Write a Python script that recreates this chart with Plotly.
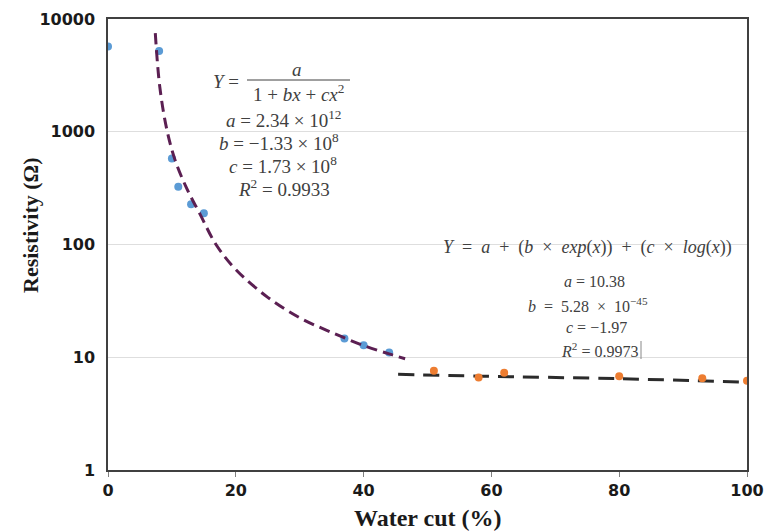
import plotly.graph_objects as go

# ---- data ----
water_cut_low = [0, 8, 10, 11, 13, 15, 37, 40, 44]
resist_low = [5700, 5200, 580, 326, 227, 189, 14.7, 12.8, 11.0]

water_cut_high = [51, 58, 62, 80, 93, 100]
resist_high = [7.6, 6.6, 7.3, 6.8, 6.5, 6.2]

fit1_x = [7.4, 8.1, 9.2, 10.5, 12.3, 14.4, 16.9, 20, 25, 30, 35, 40, 44, 46.5]
fit1_y = [7500, 2510, 1050, 560, 316, 186, 100, 60, 34, 22.4, 16.6, 12.7, 10.7, 9.7]

fit2_x = [45.4, 58, 80, 100]
fit2_y = [7.05, 6.8, 6.45, 6.0]

x_ticks = [0, 20, 40, 60, 80, 100]
y_ticks = [1, 10, 100, 1000, 10000]
y_tick_text = ["1", "10", "100", "1000", "10000"]

# ---- geometry (page pixels) ----
W, H = 765, 531
L, R, T, B = 108, 747, 19, 470


def px(x):
    return (x - L) / (R - L)


def py(y):
    return (B - y) / (B - T)


fig = go.Figure()

fig.add_trace(go.Scatter(
    x=water_cut_low, y=resist_low, mode="markers",
    marker=dict(color="#5b9bd5", size=8), showlegend=False))

fig.add_trace(go.Scatter(
    x=fit1_x, y=fit1_y, mode="lines", line_shape="spline",
    line=dict(color="#5b1f52", width=3, dash="11px,6px"), showlegend=False))

fig.add_trace(go.Scatter(
    x=fit2_x, y=fit2_y, mode="lines", line_shape="spline",
    line=dict(color="#2b2b2b", width=3, dash="16px,9px"), showlegend=False))

fig.add_trace(go.Scatter(
    x=water_cut_high, y=resist_high, mode="markers",
    marker=dict(color="#ed7d31", size=8), showlegend=False))

left_font = dict(family="Liberation Serif", size=19, color="#404040")
right_font = dict(family="Liberation Serif", size=16, color="#404040")
eq_font = dict(family="Liberation Serif", size=18, color="#404040")
anns = []


def ann(text, x, y, font, xanchor="center"):
    anns.append(dict(text=text, x=x, y=y, xref="paper", yref="paper",
                     xanchor=xanchor, yanchor="middle", showarrow=False,
                     font=font))


S = "&nbsp; "  # wide space

# left equation block
ann("<i>Y</i> =", px(241), py(82), left_font, xanchor="right")
ann("<i>a</i>", px(297), py(69), left_font)
ann("1 + <i>bx</i> + <i>cx</i><sup>2</sup>", px(298), py(93), left_font)
ann("<i>a</i> = 2.34 × 10<sup>12</sup>", px(283), py(119), left_font)
ann("<i>b</i> = −1.33 × 10<sup>8</sup>", px(279), py(142), left_font)
ann("<i>c</i> = 1.73 × 10<sup>8</sup>", px(283), py(165), left_font)
ann("<i>R</i><sup>2</sup> = 0.9933", px(284), py(188), left_font)

# right equation block
ann(f"<i>Y</i>{S}={S}<i>a</i>{S}+{S}(<i>b</i>{S}×{S}<i>exp</i>(<i>x</i>)){S}+{S}"
    f"(<i>c</i>{S}×{S}<i>log</i>(<i>x</i>))", px(587), py(247), eq_font)
ann("<i>a</i> = 10.38", px(594), py(281), right_font)
ann(f"<i>b</i>{S}={S}5.28{S}×{S}10<sup>−45</sup>", px(588), py(305), right_font)
ann("<i>c</i> = −1.97", px(596), py(327), right_font)
ann("<i>R</i><sup>2</sup> = 0.9973", px(599), py(350), right_font)

# axis titles
anns.append(dict(text="<b>Resistivity (Ω)</b>", x=(30 - L) / (R - L), y=py(225),
                 xref="paper", yref="paper", showarrow=False, textangle=-90,
                 font=dict(family="Liberation Serif", size=22, color="#1a1a1a"),
                 xanchor="center", yanchor="middle"))
ann("<b>Water cut (%)</b>", px(428), py(518),
    dict(family="Liberation Serif", size=24, color="#1a1a1a"))

shapes = [
    dict(type="line", xref="paper", yref="paper", x0=px(247), x1=px(350),
         y0=py(80), y1=py(80), line=dict(color="#404040", width=1)),
    dict(type="line", xref="paper", yref="paper", x0=px(641), x1=px(641),
         y0=py(341), y1=py(359), line=dict(color="#888888", width=1)),
]

tick_font = dict(family="DejaVu Sans", size=16, color="#1a1a1a")

fig.update_layout(
    width=W, height=H,
    margin=dict(l=L, r=W - R, t=T, b=H - B, autoexpand=False),
    paper_bgcolor="white", plot_bgcolor="white",
    annotations=anns, shapes=shapes,
    xaxis=dict(range=[0, 100], tickvals=x_ticks,
               ticktext=[f"<b>{v}</b>" for v in x_ticks],
               showgrid=False, zeroline=False, automargin=False,
               showline=True, linecolor="#404040", linewidth=1.5, mirror=True,
               ticks="outside", ticklen=5, tickcolor="#808080",
               tickfont=tick_font),
    yaxis=dict(type="log", range=[0, 4], tickvals=y_ticks,
               ticktext=[f"<b>{t}</b>" for t in y_tick_text],
               showgrid=True, gridcolor="#dedede", gridwidth=1, zeroline=False,
               automargin=False,
               showline=True, linecolor="#404040", linewidth=1.5, mirror=True,
               ticks="", ticklabelstandoff=8, tickfont=tick_font),
)

fig.write_html(
    "out.html",
    config={"displayModeBar": False},
    post_script="document.body.style.margin='0';"
                "document.body.style.overflow='hidden';",
)
